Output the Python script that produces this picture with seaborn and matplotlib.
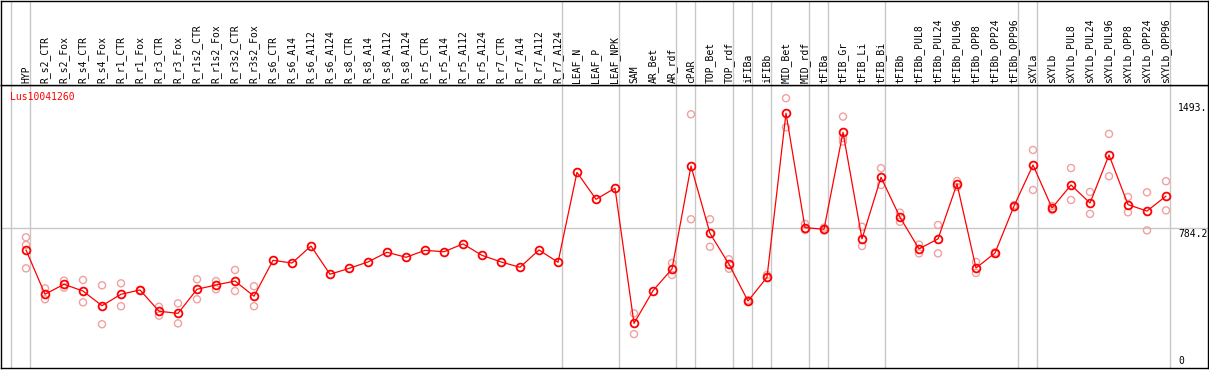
import numpy as np
import pandas as pd
import matplotlib
matplotlib.use("Agg")
import matplotlib.pyplot as plt
import seaborn as sns

# ---------------- data ----------------
title = "Lus10041260"

categories = [
    "HYP", "R_s2_CTR", "R_s2_Fox", "R_s4_CTR", "R_s4_Fox", "R_r1_CTR", "R_r1_Fox",
    "R_r3_CTR", "R_r3_Fox", "R_r1s2_CTR", "R_r1s2_Fox", "R_r3s2_CTR", "R_r3s2_Fox",
    "R_s6_CTR", "R_s6_A14", "R_s6_A112", "R_s6_A124", "R_s8_CTR", "R_s8_A14",
    "R_s8_A112", "R_s8_A124", "R_r5_CTR", "R_r5_A14", "R_r5_A112", "R_r5_A124",
    "R_r7_CTR", "R_r7_A14", "R_r7_A112", "R_r7_A124", "LEAF_N", "LEAF_P", "LEAF_NPK",
    "SAM", "AR_Bet", "AR_rdf", "cPAR", "TOP_Bet", "TOP_rdf", "iFIBa", "iFIBb",
    "MID_Bet", "MID_rdf", "tFIBa", "tFIB_Gr", "tFIB_Li", "tFIB_Bi", "tFIBb",
    "tFIBb_PUL8", "tFIBb_PUL24", "tFIBb_PUL96", "tFIBb_OPP8", "tFIBb_OPP24",
    "tFIBb_OPP96", "sXYLa", "sXYLb", "sXYLb_PUL8", "sXYLb_PUL24", "sXYLb_PUL96",
    "sXYLb_OPP8", "sXYLb_OPP24", "sXYLb_OPP96",
]

mean_values = [
    661, 413, 469, 431, 349, 413, 437,
    318, 306, 441, 465, 487, 402,
    603, 588, 683, 525, 558, 594,
    648, 620, 659, 651, 695, 631,
    594, 564, 661, 592, 1096, 945, 1007,
    250, 433, 555, 1131, 754, 581, 375, 508,
    1427, 786, 777, 1320, 723, 1068, 844,
    667, 723, 1031, 560, 644,
    907, 1137, 896, 1025, 924, 1193,
    915, 879, 963,
]

rep_categories = [
    "HYP", "HYP", "HYP", "R_s2_CTR", "R_s2_CTR", "R_s2_Fox", "R_s2_Fox",
    "R_s4_CTR", "R_s4_CTR", "R_s4_Fox", "R_s4_Fox", "R_r1_CTR", "R_r1_CTR",
    "R_r1_Fox", "R_r3_CTR", "R_r3_CTR", "R_r3_Fox", "R_r3_Fox",
    "R_r1s2_CTR", "R_r1s2_CTR", "R_r1s2_Fox", "R_r1s2_Fox",
    "R_r3s2_CTR", "R_r3s2_CTR", "R_r3s2_Fox", "R_r3s2_Fox",
    "SAM", "SAM", "AR_rdf", "AR_rdf", "cPAR", "cPAR", "TOP_Bet", "TOP_Bet",
    "TOP_rdf", "TOP_rdf", "iFIBa", "iFIBa", "iFIBb", "iFIBb",
    "MID_Bet", "MID_Bet", "MID_rdf", "MID_rdf", "tFIBa", "tFIBa",
    "tFIB_Gr", "tFIB_Gr", "tFIB_Gr", "tFIB_Li", "tFIB_Li", "tFIB_Bi", "tFIB_Bi",
    "tFIBb", "tFIBb", "tFIBb_PUL8", "tFIBb_PUL8", "tFIBb_PUL24", "tFIBb_PUL24",
    "tFIBb_PUL96", "tFIBb_PUL96", "tFIBb_OPP8", "tFIBb_OPP8",
    "tFIBb_OPP24", "tFIBb_OPP24", "tFIBb_OPP96", "tFIBb_OPP96",
    "sXYLa", "sXYLa", "sXYLb", "sXYLb", "sXYLb_PUL8", "sXYLb_PUL8",
    "sXYLb_PUL24", "sXYLb_PUL24", "sXYLb_PUL96", "sXYLb_PUL96",
    "sXYLb_OPP8", "sXYLb_OPP8", "sXYLb_OPP24", "sXYLb_OPP24",
    "sXYLb_OPP96", "sXYLb_OPP96",
]

rep_values = [
    732, 689, 558, 446, 385, 489, 450,
    493, 368, 463, 245, 474, 346,
    437, 343, 293, 362, 250,
    497, 385, 487, 441,
    549, 431, 458, 346,
    306, 190, 588, 521, 1421, 833, 833, 679,
    609, 556, 370, 380, 521, 504,
    1511, 1348, 807, 773, 786, 770,
    1408, 1288, 1268, 791, 683, 1119, 1025,
    870, 819, 691, 642, 801, 642,
    1047, 1014, 594, 532,
    648, 640, 900, 912,
    1221, 997, 907, 885, 1120, 941,
    986, 863, 1311, 1074,
    958, 872, 984, 771,
    1046, 883,
]

group_sizes = [1, 28, 3, 3, 1, 2, 1, 1, 2, 1, 3, 7, 1, 7]

ytick_values = [0, 784.2, 1493]
ytick_labels = ["0", "784.2", "1493."]

# ---------------- layout ----------------
W, H = 1209, 370
FONT = "DejaVu Sans Mono"
sns.set_style("white")
plt.rcParams["font.family"] = [FONT, "DejaVu Sans"]

n = len(categories)
pos = {c: i for i, c in enumerate(categories)}
mean_df = pd.DataFrame({"pos": np.arange(n), "value": mean_values})
rep_df = pd.DataFrame({"pos": [pos[c] for c in rep_categories], "value": rep_values})

fig = plt.figure(figsize=(W / 100, H / 100), dpi=100)
ax = fig.add_axes([1 / W, 2 / H, 1207 / W, 283 / H])
hx = fig.add_axes([1 / W, 285 / H, 1207 / W, 84.5 / H])

x0, dx = 26, 19
xlim = ((1 - x0) / dx, (1208 - x0) / dx)
for a in (ax, hx):
    a.set_xlim(*xlim)
    a.set_xticks([])
    a.set_yticks([])
    for s in a.spines.values():
        s.set_color("black")
        s.set_linewidth(1.0)
ax.set_ylim(0, 1585)
hx.set_ylim(0, 85)

grid_c = "#c8c8c8"
ax.axhline(ytick_values[1], color=grid_c, lw=1, zorder=0)
bounds = [-1] + list(np.cumsum(group_sizes) - 1)
for b in bounds:
    xb = b + 4 / dx
    ax.axvline(xb, color=grid_c, lw=1, zorder=0)
    hx.axvline(xb, color=grid_c, lw=1, zorder=0)

# replicates
sns.scatterplot(data=rep_df, x="pos", y="value", ax=ax, s=26, marker="o",
                legend=False, zorder=2)
pts = ax.collections[-1]
pts.set_facecolor("none")
pts.set_edgecolor("#f0a0a0")
pts.set_linewidth(1.0)

# means
sns.lineplot(data=mean_df, x="pos", y="value", ax=ax, color="#ff0000", lw=0.9,
             marker="o", markersize=5.6, markerfacecolor="none",
             markeredgecolor="#ff0000", markeredgewidth=1.3, zorder=3)
ax.set_xlabel("")
ax.set_ylabel("")

# header labels
for i, c in enumerate(categories):
    hx.text(i, 2, c, rotation=90, ha="center", va="bottom", fontsize=7,
            family=FONT, color="black")

# right-side value labels
lab_x = (1178 - x0) / dx
for v, t in zip(ytick_values, ytick_labels):
    va = "bottom" if v == 0 else "top"
    yy = v + 10 if v == 0 else v - 8
    ax.text(lab_x, yy, t, ha="left", va=va, fontsize=7, family=FONT,
            color="black", clip_on=False)

fig.text(10 / W, 1 - 97 / H, title, ha="left", va="center", fontsize=7,
         family=FONT, color="#ff0000")

fig.savefig("out.png", dpi=100)
